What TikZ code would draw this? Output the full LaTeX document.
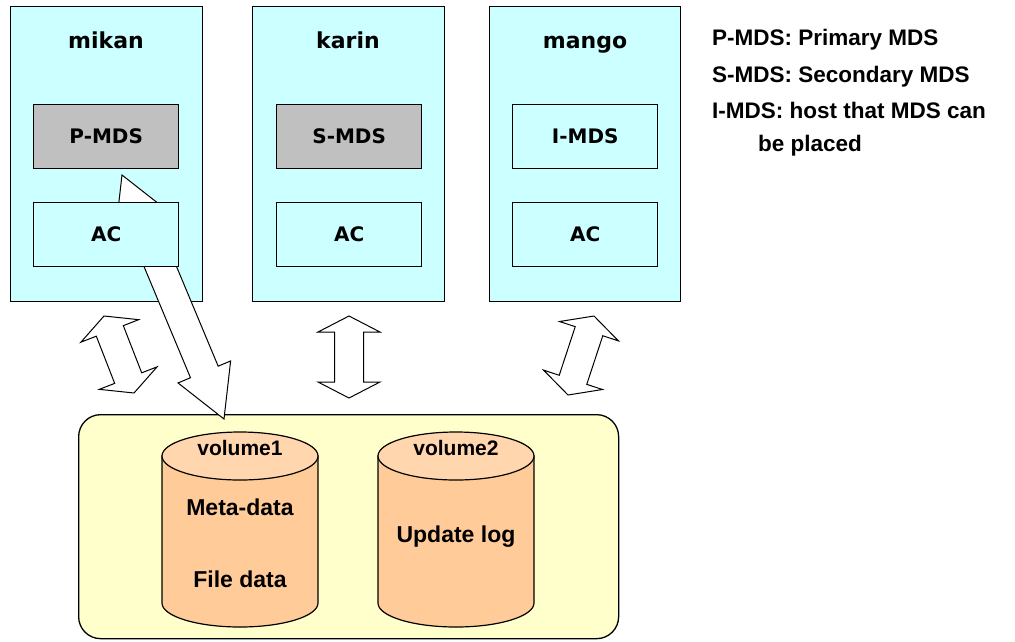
\documentclass[tikz,border=0pt]{standalone}
\usepackage{fontspec}
\setmainfont{Liberation Sans}
\newfontfamily\dejavu{DejaVu Sans}
\usetikzlibrary{calc}
\definecolor{hostc}{HTML}{CCFFFF}
\definecolor{mdsc}{HTML}{C0C0C0}
\definecolor{storc}{HTML}{FFFFCC}
\definecolor{cylbody}{HTML}{FFCC99}
\definecolor{cyltop}{HTML}{FFD6AE}
\newcommand\dblarrow[5]{%
  \coordinate (ha) at ($(#1)!#3!(#2)$);
  \coordinate (hb) at ($(#2)!#3!(#1)$);
  \filldraw[arrowshape] (#1) -- ($(ha)!#4!90:(#2)$) -- ($(ha)!#5!90:(#2)$)
    -- ($(hb)!#5!-90:(#1)$) -- ($(hb)!#4!-90:(#1)$) -- (#2)
    -- ($(hb)!#4!90:(#1)$) -- ($(hb)!#5!90:(#1)$)
    -- ($(ha)!#5!-90:(#2)$) -- ($(ha)!#4!-90:(#2)$) -- cycle;}
\tikzset{
  hostbox/.style={draw, fill=hostc, line width=1.4pt, inner sep=0pt, anchor=north west,
    minimum width=192pt, minimum height=295pt},
  innerbox/.style={draw, line width=1.4pt, inner sep=0pt, anchor=north west,
    minimum width=145pt, minimum height=64pt,
    font=\dejavu\bfseries\fontsize{20}{23}\selectfont},
  mdsbox/.style={innerbox, fill=mdsc},
  acbox/.style={innerbox, fill=hostc},
  hosttitle/.style={anchor=base, inner sep=0pt, font=\dejavu\bfseries\fontsize{22}{25}\selectfont},
  cyltext/.style={anchor=base, inner sep=0pt, font=\bfseries\fontsize{23}{26}\selectfont},
  voltext/.style={anchor=base, inner sep=0pt, font=\bfseries\fontsize{21}{24}\selectfont},
  legend/.style={anchor=base west, inner sep=0pt, font=\bfseries\fontsize{22.5}{26}\selectfont},
  arrowshape/.style={fill=white, draw=black, line width=1pt, line join=miter},
  cylshape/.style={draw=black, line width=1.2pt},
}
\begin{document}
\begin{tikzpicture}[x=1pt, y=-1pt]
\useasboundingbox (0,0) rectangle (1015,641);
\fill[white] (0,0) rectangle (1015,641);

% storage area
\node[draw, fill=storc, line width=1.3pt, rounded corners=22pt, inner sep=0pt, anchor=north west,
  minimum width=540pt, minimum height=224pt] (stor) at (78,414) {};

% hosts
\node[hostbox] (mikan) at (10,6) {};
\node[hostbox] (karin) at (252,6) {};
\node[hostbox, minimum width=191pt] (mango) at (489,6) {};
\node[hosttitle] (mikanT) at (106,48) {mikan};
\node[hosttitle] (karinT) at (348,48) {karin};
\node[hosttitle] (mangoT) at (585,48) {mango};

% cylinders
\filldraw[cylshape, fill=cylbody] (162,456) -- (162,603)
  arc[start angle=180, end angle=0, x radius=78, y radius=24] -- (318,456) -- cycle;
\filldraw[cylshape, fill=cyltop] (240,456) ellipse[x radius=78, y radius=24];
\filldraw[cylshape, fill=cylbody] (378,456) -- (378,603)
  arc[start angle=180, end angle=0, x radius=78, y radius=24] -- (534,456) -- cycle;
\filldraw[cylshape, fill=cyltop] (456,456) ellipse[x radius=78, y radius=24];
\node[voltext] (vol1) at (240,455) {volume1};
\node[voltext] (vol2) at (456,455) {volume2};
\node[cyltext] (meta) at (240,515) {Meta-data};
\node[cyltext] (fdata) at (240,587) {File data};
\node[cyltext] (ulog) at (456,542) {Update log};

% arrows
\coordinate (bigA) at (122,175);
\coordinate (bigB) at (224,419);
\dblarrow{bigA}{bigB}{51pt}{28.5pt}{15pt}
\coordinate (lA) at (104,316);
\coordinate (lB) at (134,393);
\dblarrow{lA}{lB}{16pt}{31pt}{14.5pt}
\coordinate (mA) at (349,316);
\coordinate (mB) at (349,398);
\dblarrow{mA}{mB}{16pt}{31pt}{14.5pt}
\coordinate (rA) at (594,316);
\coordinate (rB) at (568,395);
\dblarrow{rA}{rB}{16pt}{31pt}{14.5pt}

% inner boxes
\node[mdsbox] (pmds) at (33,104) {P-MDS};
\node[acbox] (ac1) at (33,202) {AC};
\node[mdsbox] (smds) at (276,104) {S-MDS};
\node[acbox] (ac2) at (276,202) {AC};
\node[acbox] (imds) at (512,104) {I-MDS};
\node[acbox] (ac3) at (512,202) {AC};

% legend
\node[legend] (leg1) at (712,45) {P-MDS: Primary MDS};
\node[legend] (leg2) at (712,82) {S-MDS: Secondary MDS};
\node[legend] (leg3) at (712,118) {I-MDS: host that MDS can};
\node[legend] (leg4) at (758,151) {be placed};
\end{tikzpicture}
\end{document}
